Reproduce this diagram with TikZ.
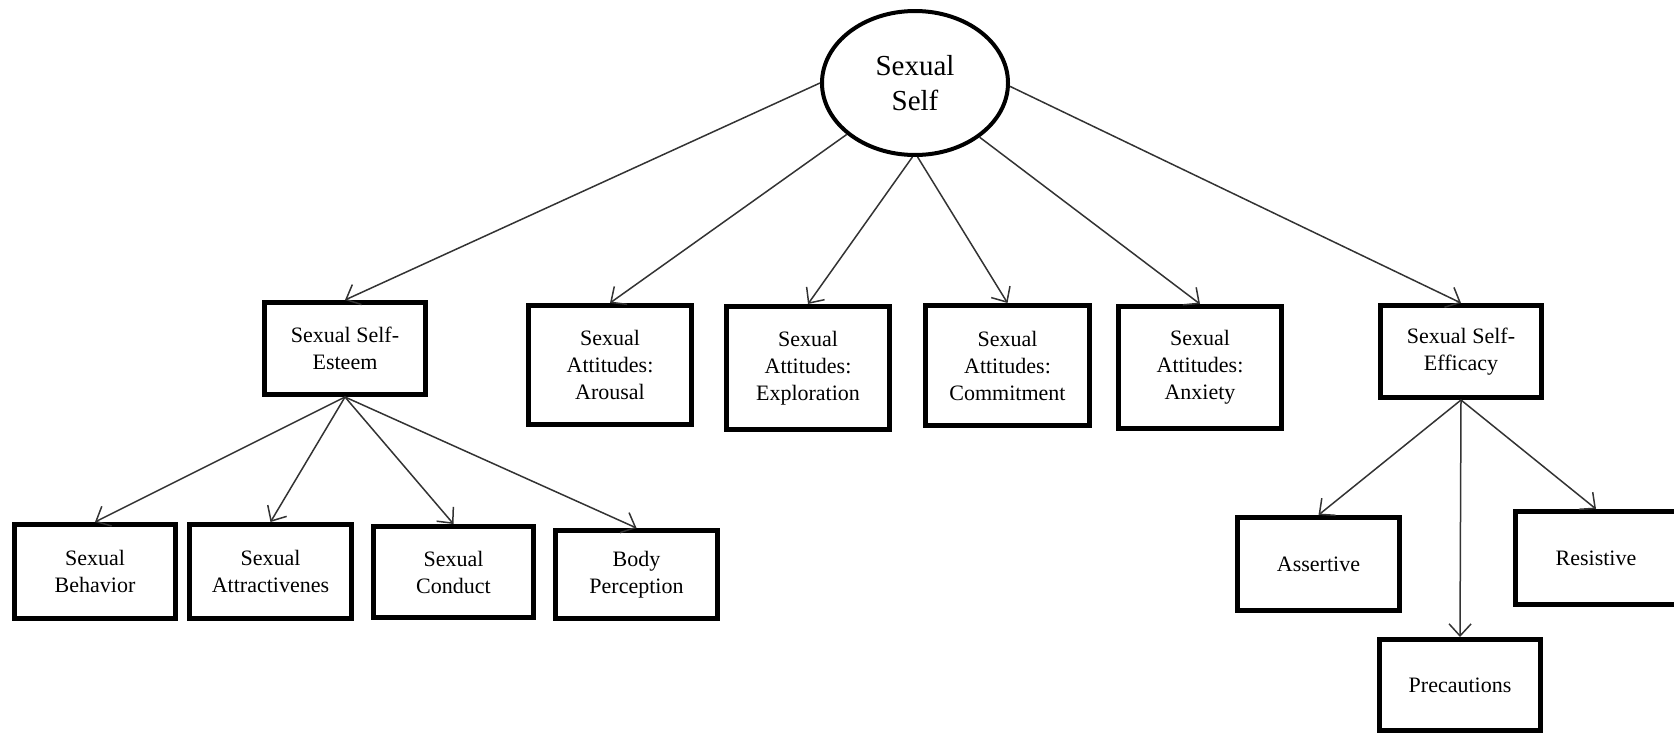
\documentclass[tikz,border=0pt]{standalone}
\usepackage{fontspec}
\setmainfont{Liberation Serif}
\usetikzlibrary{arrows.meta,shapes.geometric}
\begin{document}
\begin{tikzpicture}[x=1pt,y=-1pt,
  box/.style={draw, line width=5pt, rectangle, inner sep=0pt, align=center,
    font=\fontsize{22}{27}\selectfont},
  root/.style={draw, line width=4pt, ellipse, inner sep=0pt, align=center,
    minimum width=186pt, minimum height=144pt, font=\fontsize{29}{35}\selectfont},
  conn/.style={draw=black!80, line width=1.5pt,
    -{Straight Barb[length=12pt,width=22pt]}}]
\useasboundingbox (0,0) rectangle (1674,734);

% root concept
\node[root] (top) at (915,83) {Sexual\\Self};

% second level
\node[box, minimum width=161pt, minimum height=92pt]  (esteem)   at (345,348.5)  {Sexual Self-\\Esteem};
\node[box, minimum width=163pt, minimum height=119pt] (arousal)  at (610,365)    {Sexual\\Attitudes:\\Arousal};
\node[box, minimum width=163pt, minimum height=123pt] (explor)   at (808,368)    {Sexual\\Attitudes:\\Exploration};
\node[box, minimum width=164pt, minimum height=120pt] (commit)   at (1007.5,365.5) {Sexual\\Attitudes:\\Commitment};
\node[box, minimum width=163pt, minimum height=122pt] (anxiety)  at (1200,367.5) {Sexual\\Attitudes:\\Anxiety};
\node[box, minimum width=161pt, minimum height=92pt]  (efficacy) at (1461,351.5) {Sexual Self-\\Efficacy};

% self-esteem components
\node[box, minimum width=161pt, minimum height=94pt] (behav)   at (95,571.5)    {Sexual\\Behavior};
\node[box, minimum width=162pt, minimum height=94pt] (attract) at (270.5,571.5) {Sexual\\Attractivenes};
\node[box, minimum width=160pt, minimum height=91pt] (conduct) at (453.5,572)   {Sexual\\Conduct};
\node[box, minimum width=162pt, minimum height=88pt] (body)    at (636.5,574.5) {Body\\Perception};

% self-efficacy components
\node[box, minimum width=162pt, minimum height=93pt] (assert)  at (1318.5,564) {Assertive};
\node[box, minimum width=161pt, minimum height=93pt] (resist)  at (1596,558)   {Resistive};
\node[box, minimum width=161pt, minimum height=91pt] (precaut) at (1460,685)   {Precautions};

% connectors from the root
\draw[conn] (top.west) -- (esteem.north);
\draw[conn] (top.217)  -- (arousal.north);
\draw[conn] (top.268)  -- (explor.north);
\draw[conn] (top.272)  -- (commit.north);
\draw[conn] (top.320)  -- (anxiety.north);
\draw[conn] (top.-2)   -- (efficacy.north);

% connectors below self-esteem
\draw[conn] (esteem.south) -- (behav.north);
\draw[conn] (esteem.south) -- (attract.north);
\draw[conn] (esteem.south) -- (conduct.north);
\draw[conn] (esteem.south) -- (body.north);

% connectors below self-efficacy
\draw[conn] (efficacy.south) -- (assert.north);
\draw[conn] (efficacy.south) -- (precaut.north);
\draw[conn] (efficacy.south) -- (resist.north);
\end{tikzpicture}
\end{document}
